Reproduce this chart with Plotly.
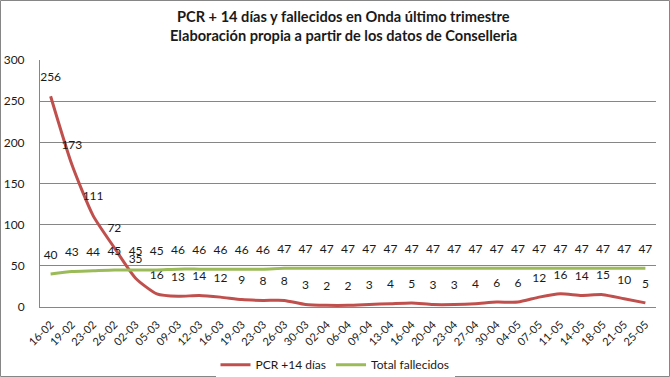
import plotly.graph_objects as go

fechas = ["16-02", "19-02", "23-02", "26-02", "02-03", "05-03", "09-03", "12-03", "16-03",
          "19-03", "23-03", "26-03", "30-03", "02-04", "06-04", "09-04", "13-04", "16-04",
          "20-04", "23-04", "27-04", "30-04", "04-05", "07-05", "11-05", "14-05", "18-05",
          "21-05", "25-05"]
pcr = [256, 173, 111, 72, 35, 16, 13, 14, 12, 9, 8, 8, 3, 2, 2, 3, 4, 5, 3, 3, 4, 6, 6,
       12, 16, 14, 15, 10, 5]
fallecidos = [40, 43, 44, 45, 45, 45, 46, 46, 46, 46, 46, 47, 47, 47, 47, 47, 47, 47, 47,
              47, 47, 47, 47, 47, 47, 47, 47, 47, 47]
y_ticks = [0, 50, 100, 150, 200, 250, 300]
titulo = ["PCR + 14 días y fallecidos en Onda último trimestre",
          "Elaboración propia a partir de los datos de Conselleria"]

FONT = "Lato"

fig = go.Figure()
for nombre, vals, color in [("PCR +14 días", pcr, "#C0504D"),
                            ("Total fallecidos", fallecidos, "#9BBB59")]:
    fig.add_trace(go.Scatter(
        x=fechas, y=vals, mode="lines+markers+text", name=nombre,
        line=dict(color=color, width=3, shape="spline", smoothing=0.6),
        marker=dict(size=18, color="rgba(0,0,0,0)"),
        text=[str(v) for v in vals], textposition="top center",
        textfont=dict(family=FONT, size=12, color="#1a1a1a"), cliponaxis=False))

L, R, T, B = 40, 14, 60, 70
W, H = 670, 377
pw, ph = W - L - R, H - T - B

annotations = []
for txt, py in zip(titulo, [16, 35]):
    annotations.append(dict(
        text="<b>" + txt + "</b>", xref="paper", yref="paper",
        x=(W / 2 + 8 - L) / pw, y=1 + (T - py) / ph, xanchor="center", yanchor="middle",
        showarrow=False, font=dict(family=FONT, size=14.6, color="#1a1a1a")))

fig.update_layout(
    width=W, height=H,
    margin=dict(l=L, r=R, t=T, b=B, autoexpand=False),
    paper_bgcolor="white", plot_bgcolor="white",
    font=dict(family=FONT, color="#1a1a1a"),
    annotations=annotations,
    xaxis=dict(type="category", tickangle=-45, showgrid=False, automargin=False,
               showline=True, linecolor="#868686", linewidth=1, ticklabelstandoff=6,
               ticks="", tickfont=dict(family=FONT, size=11, color="#1a1a1a"),
               range=[-0.5, len(fechas) - 0.5]),
    yaxis=dict(range=[0, 300], tickvals=y_ticks, showgrid=True, gridcolor="#868686",
               gridwidth=1, showline=True, linecolor="#868686", linewidth=1, automargin=False,
               ticklabelstandoff=12,
               zeroline=False, ticks="", tickfont=dict(family=FONT, size=12, color="#1a1a1a")),
    legend=dict(orientation="h", x=(W / 2 - L) / pw, xanchor="center", y=-0.175, yanchor="top",
                font=dict(family=FONT, size=12, color="#1a1a1a")),
    shapes=[dict(type="rect", xref="paper", yref="paper",
                 x0=-(L - 0.5) / pw, x1=1 + (R - 0.5) / pw,
                 y0=-(B - 0.5) / ph, y1=1 + (T - 0.5) / ph,
                 line=dict(color="#868686", width=1))],
)

fig.write_html("out.html", config={"displayModeBar": False},
               post_script="document.body.style.margin='0';document.body.style.overflow='hidden';")
